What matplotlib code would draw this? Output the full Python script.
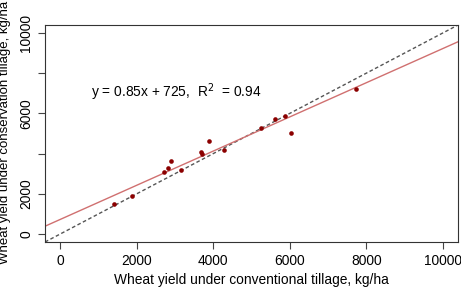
import matplotlib
matplotlib.use("Agg")
import matplotlib.pyplot as plt
import numpy as np

plt.rcParams['font.family'] = ['Liberation Sans', 'DejaVu Sans']

conventional = [1414, 1867, 2714, 2810, 2897, 3150, 3691, 3709, 3892, 4275,
                5253, 5620, 5882, 6021, 7740]
conservation = [1507, 1875, 3085, 3300, 3648, 3200, 4063, 3963, 4610, 4162,
                5256, 5705, 5871, 5025, 7214]
slope, intercept = 0.85, 725
ticks = [0, 2000, 4000, 6000, 8000, 10000]
ytick_labels = ["0", "2000", "", "6000", "", "10000"]
xtick_labels = ["0", "2000", "4000", "6000", "8000", "10000"]

fs = 9.9
fig = plt.figure(figsize=(4.61, 2.88), dpi=100)
ax = fig.add_axes([0.0976, 0.1597, 0.8959, 0.7535])
ax.set_xlim(-400, 10400)
ax.set_ylim(-400, 10400)

xx = np.array([-400, 10400])
ax.plot(xx, xx, color="#555555", ls=(0, (2.6, 1.8)), lw=1.0)
ax.plot(xx, slope * xx + intercept, color="#d07070", lw=1.0)
ax.scatter(conventional, conservation, s=11, color="#8b0000", zorder=3, linewidths=0)

ax.text(800, 7050, "y = 0.85x + 725,  R$^2$  = 0.94", fontsize=fs, va="center", ha="left")

ax.set_xticks(ticks)
ax.set_xticklabels(xtick_labels, fontsize=fs)
ax.set_yticks(ticks)
ax.set_yticklabels(ytick_labels, fontsize=fs, rotation=90, va="center")
ax.tick_params(direction="out", length=5, color="#444444", width=0.8, pad=3.5)
for s in ax.spines.values():
    s.set_color("#333333")
    s.set_linewidth(0.8)
ax.set_xlabel("Wheat yield under conventional tillage, kg/ha", fontsize=fs, labelpad=4)
ax.set_ylabel("Wheat yield under conservation tillage, kg/ha", fontsize=9.5, labelpad=4)
ax.yaxis.set_label_coords(-0.082, 0.505)

fig.savefig("out.png", dpi=100)
